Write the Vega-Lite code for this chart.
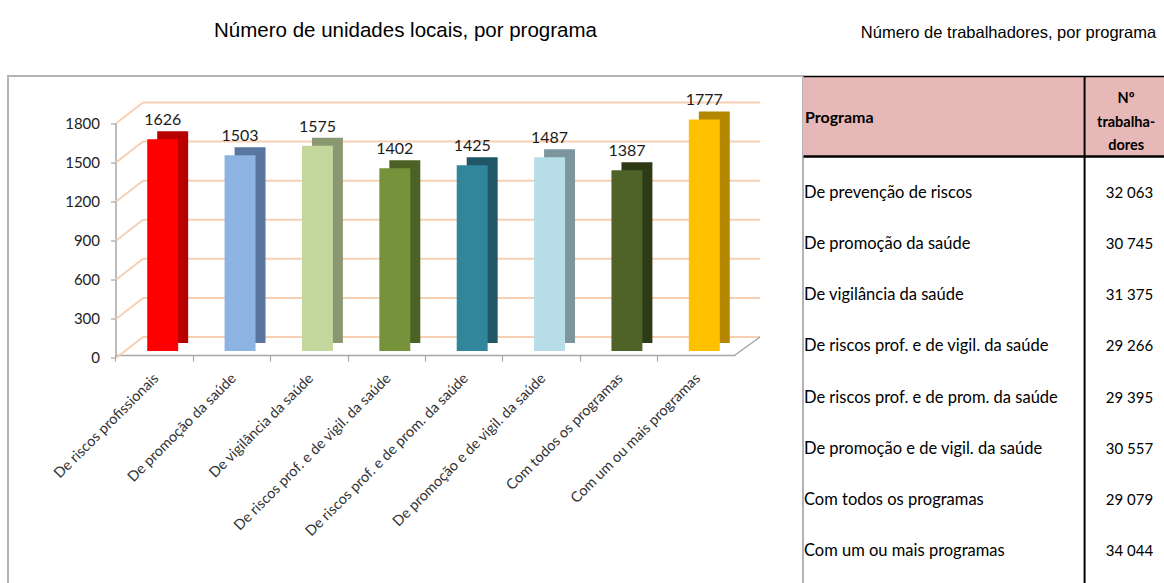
{
  "$schema": "https://vega.github.io/schema/vega-lite/v6.json",
  "background": "white",
  "padding": {"left": 7, "top": 19, "right": 0, "bottom": 0},
  "autosize": {"type": "pad"},
  "bounds": "flush",
  "spacing": 0,
  "config": {
    "locale": {"number": {"decimal": ",", "thousands": " ", "grouping": [3], "currency": ["", " €"]}},
    "font": "Lato",
    "title": {"font": "Liberation Sans", "fontWeight": "normal", "color": "#000000"}
  },
  "datasets": {
    "unidades": [
      {"programa": "De riscos profissionais", "unidades": 1626},
      {"programa": "De promoção da saúde", "unidades": 1503},
      {"programa": "De vigilância da saúde", "unidades": 1575},
      {"programa": "De riscos  prof. e de vigil. da saúde", "unidades": 1402},
      {"programa": "De riscos  prof. e de prom. da saúde", "unidades": 1425},
      {"programa": "De promoção e de vigil. da saúde", "unidades": 1487},
      {"programa": "Com todos os programas", "unidades": 1387},
      {"programa": "Com um ou mais programas", "unidades": 1777}
    ],
    "grelha": [{"v": 0}, {"v": 300}, {"v": 600}, {"v": 900}, {"v": 1200}, {"v": 1500}, {"v": 1800}],
    "trabalhadores": [
      {"programa": "De prevenção de riscos", "trabalhadores": 32063},
      {"programa": "De promoção da saúde", "trabalhadores": 30745},
      {"programa": "De vigilância da saúde", "trabalhadores": 31375},
      {"programa": "De riscos  prof. e de vigil. da saúde", "trabalhadores": 29266},
      {"programa": "De riscos  prof. e de prom. da saúde", "trabalhadores": 29395},
      {"programa": "De promoção e de vigil. da saúde", "trabalhadores": 30557},
      {"programa": "Com todos os programas", "trabalhadores": 29079},
      {"programa": "Com um ou mais programas", "trabalhadores": 34044}
    ]
  },
  "hconcat": [
    {
      "width": 795,
      "height": 520,
      "view": {"stroke": "#b4b4b4", "strokeWidth": 2},
      "title": {"text": "Número de unidades locais, por programa", "fontSize": 20.5, "offset": 35, "anchor": "middle"},
      "resolve": {"scale": {"color": "independent"}},
      "layer": [
        {
          "data": {"name": "grelha"},
          "mark": {"type": "rule", "color": "#f7cfb2", "strokeWidth": 2, "xOffset": -11.7, "x2Offset": 63.7, "yOffset": -14},
          "encoding": {
            "x": {"datum": "De riscos profissionais", "type": "nominal",
                  "scale": {"domain": ["De riscos profissionais", "De promoção da saúde", "De vigilância da saúde", "De riscos  prof. e de vigil. da saúde", "De riscos  prof. e de prom. da saúde", "De promoção e de vigil. da saúde", "Com todos os programas", "Com um ou mais programas"],
                            "range": [108, 727], "paddingInner": 0.6, "paddingOuter": 0.3}},
            "x2": {"datum": "Com um ou mais programas"},
            "y": {"field": "v", "type": "quantitative",
                  "scale": {"domain": [0, 1800], "range": [275, 40.5], "nice": false, "zero": true}}
          }
        },
        {
          "data": {"name": "grelha"},
          "mark": {"type": "rule", "color": "#f7cfb2", "strokeWidth": 2, "xOffset": -38.7, "x2Offset": -11.7, "yOffset": 7, "y2Offset": -14},
          "encoding": {
            "x": {"datum": "De riscos profissionais", "type": "nominal"},
            "x2": {"datum": "De riscos profissionais"},
            "y": {"field": "v", "type": "quantitative"},
            "y2": {"field": "v"}
          }
        },
        {
          "data": {"name": "grelha"},
          "transform": [{"filter": "datum.v == 0"}],
          "mark": {"type": "rule", "color": "#a6a6a6", "strokeWidth": 1.5, "xOffset": 38.7, "x2Offset": 63.7, "yOffset": 4, "y2Offset": -14},
          "encoding": {
            "x": {"datum": "Com um ou mais programas", "type": "nominal"},
            "x2": {"datum": "Com um ou mais programas"},
            "y": {"field": "v", "type": "quantitative"},
            "y2": {"field": "v"}
          }
        },
        {
          "data": {"name": "unidades"},
          "mark": {"type": "bar", "xOffset": 18, "yOffset": -8, "y2Offset": -8},
          "encoding": {
            "x": {"field": "programa", "type": "nominal"},
            "y": {"field": "unidades", "type": "quantitative"},
            "color": {"field": "programa", "type": "nominal", "legend": null,
                      "scale": {"domain": ["De riscos profissionais", "De promoção da saúde", "De vigilância da saúde", "De riscos  prof. e de vigil. da saúde", "De riscos  prof. e de prom. da saúde", "De promoção e de vigil. da saúde", "Com todos os programas", "Com um ou mais programas"],
                                "range": ["#b80000", "#5876a0", "#8a9872", "#4c6124", "#1f5767", "#7d969e", "#2e3a15", "#b38800"]}}
          }
        },
        {
          "data": {"name": "unidades"},
          "mark": {"type": "bar", "xOffset": 8},
          "encoding": {
            "x": {"field": "programa", "type": "nominal",
                  "axis": {"title": null, "orient": "bottom", "offset": -241, "grid": false,
                           "domainColor": "#a6a6a6", "domainWidth": 1.5,
                           "tickColor": "#a6a6a6", "tickSize": 6, "tickWidth": 1.2, "bandPosition": -0.75,
                           "labelAngle": -45, "labelOffset": 2, "labelPadding": 15,
                           "labelFontSize": 14.5, "labelColor": "#333333", "labelFont": "Lato", "labelLimit": 0}},
            "y": {"field": "unidades", "type": "quantitative",
                  "axis": {"title": null, "orient": "left", "offset": -101, "translate": 7, "grid": false,
                           "values": [0, 300, 600, 900, 1200, 1500, 1800], "format": "d",
                           "domainColor": "#a6a6a6", "domainWidth": 1.5,
                           "tickColor": "#a6a6a6", "tickSize": 5, "tickWidth": 1.2,
                           "labelPadding": 11, "labelFontSize": 15, "labelColor": "#222222", "labelFont": "Lato"}},
            "color": {"field": "programa", "type": "nominal", "legend": null,
                      "scale": {"domain": ["De riscos profissionais", "De promoção da saúde", "De vigilância da saúde", "De riscos  prof. e de vigil. da saúde", "De riscos  prof. e de prom. da saúde", "De promoção e de vigil. da saúde", "Com todos os programas", "Com um ou mais programas"],
                                "range": ["#ff0000", "#8db3e2", "#c3d69b", "#76933c", "#31869b", "#b7dde8", "#4f6228", "#ffc000"]}}
          }
        },
        {
          "data": {"name": "unidades"},
          "mark": {"type": "text", "xOffset": 8, "dy": -11, "baseline": "bottom", "align": "center", "fontSize": 16, "color": "#1a1a1a"},
          "encoding": {
            "x": {"field": "programa", "type": "nominal"},
            "y": {"field": "unidades", "type": "quantitative"},
            "text": {"field": "unidades", "type": "quantitative", "format": "d"}
          }
        }
      ]
    },
    {
      "bounds": "flush",
      "spacing": 0,
      "vconcat": [
        {
          "width": 361,
          "height": 80,
          "view": {"fill": "#e6b8b7", "stroke": null},
          "title": {"text": "Número de trabalhadores, por programa", "fontSize": 16.5, "offset": 33.75, "anchor": "middle", "dx": 25},
          "layer": [
            {
              "data": {"values": [{"rotulo": "Programa"}]},
              "mark": {"type": "text", "align": "left", "baseline": "middle", "dx": 2, "dy": 2, "fontWeight": "bold", "fontSize": 16, "color": "#000000"},
              "encoding": {
                "x": {"datum": 0, "type": "quantitative", "scale": {"domain": [0, 1]},
                      "axis": {"orient": "top", "domain": true, "domainColor": "#000000", "domainWidth": 1.5, "labels": false, "ticks": false, "grid": false, "title": null}},
                "text": {"field": "rotulo"}
              }
            },
            {
              "data": {"values": [{"rotulo": "Nº|trabalha-|dores"}]},
              "mark": {"type": "text", "align": "center", "baseline": "middle", "lineBreak": "|", "lineHeight": 23.5, "dy": -17, "fontWeight": "bold", "fontSize": 14.5, "color": "#000000"},
              "encoding": {
                "x": {"datum": 0.895, "type": "quantitative"},
                "text": {"field": "rotulo"}
              }
            },
            {
              "data": {"values": [{}]},
              "mark": {"type": "rule", "color": "#000000", "strokeWidth": 2},
              "encoding": {"x": {"datum": 0.78, "type": "quantitative"}}
            }
          ]
        },
        {
          "width": 361,
          "height": 440,
          "view": {"stroke": null},
          "data": {"name": "trabalhadores"},
          "layer": [
            {
              "mark": {"type": "text", "align": "left", "baseline": "middle", "dx": 1, "fontSize": 16.5, "color": "#000000"},
              "encoding": {
                "x": {"datum": 0, "type": "quantitative", "scale": {"domain": [0, 1]},
                      "axis": {"orient": "top", "domain": true, "domainColor": "#000000", "domainWidth": 2.5, "labels": false, "ticks": false, "grid": false, "title": null}},
                "y": {"field": "programa", "type": "nominal",
                      "axis": {"title": null, "domain": false, "labels": false, "ticks": false, "grid": false},
                      "scale": {"type": "point", "range": [37, 395], "padding": 0,
                                "domain": ["De prevenção de riscos", "De promoção da saúde", "De vigilância da saúde", "De riscos  prof. e de vigil. da saúde", "De riscos  prof. e de prom. da saúde", "De promoção e de vigil. da saúde", "Com todos os programas", "Com um ou mais programas"]}},
                "text": {"field": "programa"}
              }
            },
            {
              "mark": {"type": "text", "align": "right", "baseline": "middle", "fontSize": 15, "color": "#000000"},
              "encoding": {
                "x": {"datum": 0.97, "type": "quantitative"},
                "y": {"field": "programa", "type": "nominal"},
                "text": {"field": "trabalhadores", "type": "quantitative", "format": ",d"}
              }
            },
            {
              "data": {"values": [{}]},
              "mark": {"type": "rule", "color": "#000000", "strokeWidth": 2},
              "encoding": {"x": {"datum": 0.78, "type": "quantitative"}}
            }
          ]
        }
      ]
    }
  ]
}
